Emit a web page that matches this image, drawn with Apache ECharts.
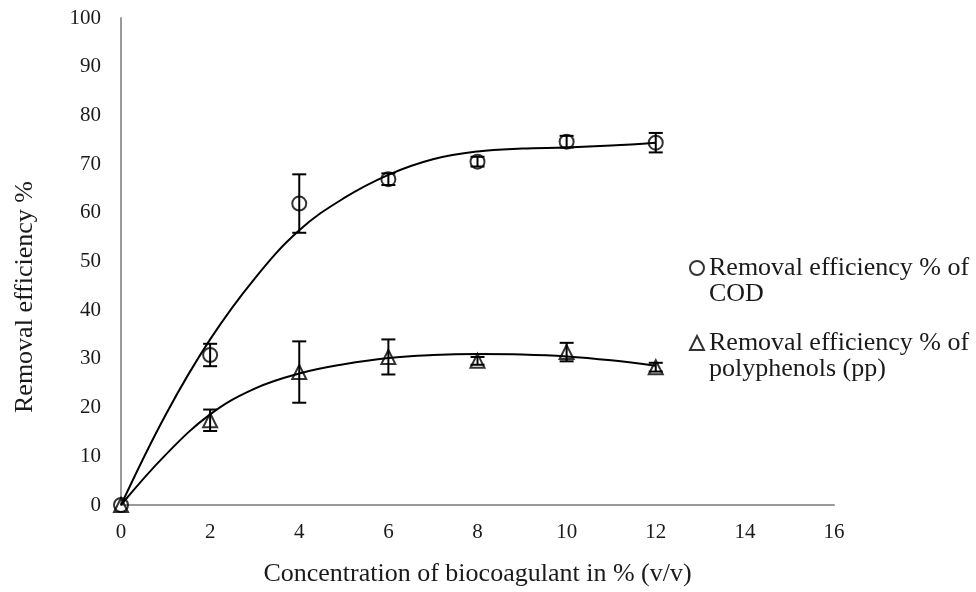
<!DOCTYPE html>
<html>
<head>
<meta charset="utf-8">
<script src="https://cdn.jsdelivr.net/npm/echarts@6/dist/echarts.min.js"></script>
<style>html,body{margin:0;padding:0;background:#fff}#c{width:976px;height:592px}</style>
</head>
<body>
<div id="c"></div>
<script>
// Concentration of biocoagulant (% v/v)
var conc = [0, 2, 4, 6, 8, 10, 12];
// Removal efficiency % of COD (mean, error)
var codMean = [0, 30.8, 61.9, 66.9, 70.5, 74.6, 74.4];
var codErr  = [0, 2.3, 6.0, 1.2, 1.0, 1.2, 2.0];
// Removal efficiency % of polyphenols (mean, error)
var ppMean = [0, 17.4, 27.3, 30.4, 29.6, 31.4, 28.3];
var ppErr  = [0, 2.2, 6.3, 3.6, 0.8, 1.9, 0.9];
// Trend curves
var trendX   = [0, 1, 2, 3, 4, 5, 6, 7, 8, 9, 10, 11, 12];
var codTrend = [0, 18.5, 34, 46.5, 56.4, 63, 67.8, 71, 72.6, 73.2, 73.4, 73.8, 74.4];
var ppTrend  = [0, 10.3, 18.6, 23.9, 27.0, 28.9, 30.2, 30.8, 31.0, 30.9, 30.5, 29.7, 28.6];
// Tick labels
var xTicks = [0, 2, 4, 6, 8, 10, 12, 14, 16];
var yTicks = [0, 10, 20, 30, 40, 50, 60, 70, 80, 90, 100];

var codName = 'Removal efficiency % of\nCOD';
var ppName = 'Removal efficiency % of\npolyphenols (pp)';
var font = 'Liberation Serif';

function pairs(xs, ys) { return xs.map(function (x, i) { return [x, ys[i]]; }); }
function errData(xs, m, e) { return xs.map(function (x, i) { return [x, m[i] - e[i], m[i] + e[i]]; }); }

function renderErr(params, api) {
  var x = api.value(0), lo = api.value(1), hi = api.value(2);
  if (hi - lo <= 0) return null;
  var p1 = api.coord([x, hi]), p2 = api.coord([x, lo]);
  var w = 7;
  var st = { stroke: '#000', lineWidth: 2 };
  return { type: 'group', children: [
    { type: 'line', shape: { x1: p1[0], y1: p1[1], x2: p2[0], y2: p2[1] }, style: st },
    { type: 'line', shape: { x1: p1[0] - w, y1: p1[1], x2: p1[0] + w, y2: p1[1] }, style: st },
    { type: 'line', shape: { x1: p2[0] - w, y1: p2[1], x2: p2[0] + w, y2: p2[1] }, style: st }
  ]};
}

var chart = echarts.init(document.getElementById('c'), null, { renderer: 'canvas' });
chart.setOption({
  backgroundColor: '#fff',
  animation: false,
  grid: { left: 121, right: 142, top: 18, bottom: 79, containLabel: false },
  xAxis: {
    type: 'value', min: 0, max: 16, interval: 2,
    name: 'Concentration of biocoagulant in % (v/v)',
    nameLocation: 'middle', nameGap: 56,
    nameTextStyle: { fontFamily: font, fontSize: 26, color: '#1a1a1a' },
    axisLine: { lineStyle: { color: '#9a9a9a', width: 2 } },
    axisTick: { show: false },
    splitLine: { show: false },
    axisLabel: { fontFamily: font, fontSize: 21, color: '#1a1a1a', margin: 17,
      formatter: function (v) { return xTicks.indexOf(v) >= 0 ? String(v) : ''; } }
  },
  yAxis: {
    type: 'value', min: 0, max: 100, interval: 10,
    name: 'Removal efficiency %',
    nameLocation: 'middle', nameGap: 83, nameRotate: 90,
    nameTextStyle: { fontFamily: font, fontSize: 26, color: '#1a1a1a', padding: [0, 71, 0, 0] },
    axisLine: { show: true, lineStyle: { color: '#9a9a9a', width: 2 } },
    axisTick: { show: false },
    splitLine: { show: false },
    axisLabel: { fontFamily: font, fontSize: 21, color: '#1a1a1a', margin: 20,
      formatter: function (v) { return yTicks.indexOf(v) >= 0 ? String(v) : ''; } }
  },
  legend: {
    orient: 'vertical', left: 689, top: 229, itemGap: -3, padding: 0,
    itemWidth: 14, itemHeight: 14,
    data: [codName, ppName],
    formatter: function (name) { return '\n' + name; },
    textStyle: { fontFamily: font, fontSize: 26, color: '#1a1a1a', lineHeight: 26 }
  },
  series: [
    { type: 'line', name: 'codTrend', data: pairs(trendX, codTrend), smooth: 0.4, showSymbol: false,
      lineStyle: { color: '#000', width: 2 }, silent: true, z: 2 },
    { type: 'line', name: 'ppTrend', data: pairs(trendX, ppTrend), smooth: 0.4, showSymbol: false,
      lineStyle: { color: '#000', width: 2 }, silent: true, z: 2 },
    { type: 'custom', name: 'codErr', data: errData(conc, codMean, codErr), renderItem: renderErr, z: 3 },
    { type: 'custom', name: 'ppErr', data: errData(conc, ppMean, ppErr), renderItem: renderErr, z: 3 },
    { type: 'scatter', name: codName, data: pairs(conc, codMean), symbol: 'circle', symbolSize: 14,
      itemStyle: { color: 'rgba(255,255,255,0)', borderColor: '#000', borderWidth: 2 }, z: 4 },
    { type: 'scatter', name: ppName, data: pairs(conc, ppMean), symbol: 'triangle', symbolSize: 14,
      itemStyle: { color: 'rgba(255,255,255,0)', borderColor: '#000', borderWidth: 2 }, z: 4 }
  ]
});
</script>
</body>
</html>
